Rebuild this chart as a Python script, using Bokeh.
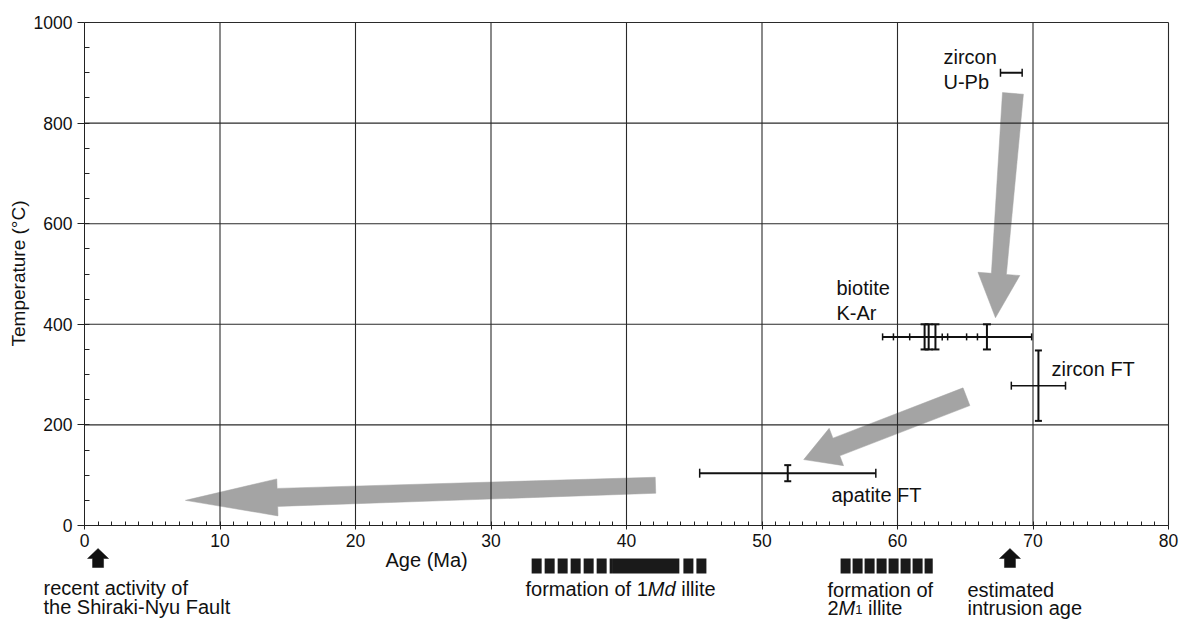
import math
from bokeh.plotting import figure
from bokeh.models import (Range1d, LinearAxis, FixedTicker, ColumnDataSource,
                          Whisker, TeeHead)
from bokeh.core.properties import value
from bokeh.embed import file_html
from bokeh.resources import INLINE

# ---------------- data ----------------
x_ticks = [0, 10, 20, 30, 40, 50, 60, 70, 80]
y_ticks = [0, 200, 400, 600, 800, 1000]
x_minor = list(range(0, 81, 1))
y_minor = list(range(0, 1001, 50))

# zircon U-Pb
zircon_upb_age = [68.4]
zircon_upb_age_err = [0.8]
zircon_upb_temp = [900]

# biotite K-Ar
biotite_age = [62.0, 62.3, 62.8, 66.6]
biotite_age_err = [3.1, 1.4, 3.1, 3.3]
biotite_temp = [375, 375, 375, 375]
biotite_temp_err = [25, 25, 25, 25]

# zircon FT
zircon_ft_age = [70.4]
zircon_ft_age_err = [2.0]
zircon_ft_temp = [278]
zircon_ft_temp_err = [70]

# apatite FT
apatite_ft_age = [51.9]
apatite_ft_age_err = [6.5]
apatite_ft_temp = [104]
apatite_ft_temp_err = [16]

# cooling-path arrows (age, temperature)
path_from_age = [68.52, 65.09, 42.14]
path_from_temp = [859, 256, 80]
path_to_age = [67.23, 53.08, 7.45]
path_to_temp = [413, 131, 50]

# events below the axis
event_ages = [1.0, 68.3]
illite_1Md_range = [33.0, 46.0]
illite_1Md_main = [39.0, 43.9]
illite_2M1_range = [55.8, 62.6]

# ---------------- frame geometry ----------------
W, H = 1179, 619
AXIS_LEFT_PX, AXIS_RIGHT_PX = 84, 1168
TOP_PX = 22
ZERO_PX = 525
X_MIN, X_MAX = 0, 80
Y_MAX = 1000
SX = (AXIS_RIGHT_PX - AXIS_LEFT_PX) / (X_MAX - X_MIN)
SY = (ZERO_PX - TOP_PX) / Y_MAX


def px2x(px):
    return X_MIN + (px - AXIS_LEFT_PX) / SX


def px2y(py):
    return (ZERO_PX - py) / SY


FONT = "Liberation Sans"
GRAY = "#a4a4a4"
INK = "#111111"
TEXT_DY = -7  # compensation for text baseline placement

p = figure(width=W, height=H,
           x_range=Range1d(px2x(0), px2x(W)), y_range=Range1d(px2y(H), px2y(0)),
           output_backend="svg", toolbar_location=None,
           x_axis_type=None, y_axis_type=None,
           min_border_left=0, min_border_right=0, min_border_top=0, min_border_bottom=0,
           outline_line_color=None, background_fill_color="white",
           border_fill_color="white")
p.xgrid.visible = False
p.ygrid.visible = False

# ---------------- axes ----------------
common = dict(major_label_text_font=FONT, major_label_text_font_size="17.5px",
              major_label_text_color=INK,
              axis_line_color="#222", major_tick_line_color="#222",
              minor_tick_line_color="#222")
yaxis = LinearAxis(ticker=FixedTicker(ticks=y_ticks, minor_ticks=y_minor), bounds=(0, Y_MAX),
                   fixed_location=X_MIN, major_label_standoff=5,
                   major_tick_in=0, major_tick_out=7, minor_tick_in=5, minor_tick_out=0,
                   **common)
p.add_layout(yaxis, "left")

xaxis = LinearAxis(ticker=FixedTicker(ticks=x_ticks, minor_ticks=x_minor), bounds=(X_MIN, X_MAX),
                   fixed_location=0, major_label_standoff=4,
                   major_tick_in=0, major_tick_out=4, minor_tick_in=4, minor_tick_out=0,
                   **common)
p.add_layout(xaxis, "below")


# ---------------- arrows ----------------
def arrow_polygon(x0, y0, x1, y1, w0, w1, hw, hl):
    X0, Y0, X1, Y1 = x0 * SX, y0 * SY, x1 * SX, y1 * SY
    dx, dy = X1 - X0, Y1 - Y0
    L = math.hypot(dx, dy)
    ux, uy = dx / L, dy / L
    nx, ny = -uy, ux
    bx, by = X1 - ux * hl, Y1 - uy * hl
    pts = [(X0 + nx * w0 / 2, Y0 + ny * w0 / 2),
           (bx + nx * w1 / 2, by + ny * w1 / 2),
           (bx + nx * hw / 2, by + ny * hw / 2),
           (X1, Y1),
           (bx - nx * hw / 2, by - ny * hw / 2),
           (bx - nx * w1 / 2, by - ny * w1 / 2),
           (X0 - nx * w0 / 2, Y0 - ny * w0 / 2)]
    return [q[0] / SX for q in pts], [q[1] / SY for q in pts]


shaft_tail = [21, 19, 16]
shaft_head = [15, 19, 18]
head_w = [42, 40, 37]
head_l = [44, 35, 92]
axs, ays = [], []
for i in range(len(path_from_age)):
    xs, ys = arrow_polygon(path_from_age[i], path_from_temp[i], path_to_age[i], path_to_temp[i],
                           shaft_tail[i], shaft_head[i], head_w[i], head_l[i])
    axs.append(xs)
    ays.append(ys)
p.patches(axs, ays, fill_color=GRAY, line_color=GRAY, line_width=0.5)

# ---------------- grid ----------------
gx = [t for t in x_ticks if t > X_MIN]
p.segment(x0=gx, y0=[0] * len(gx), x1=gx, y1=[Y_MAX] * len(gx), line_color="#2a2a2a", line_width=1.1)
gy = [t for t in y_ticks if t > 0]
p.segment(x0=[X_MIN] * len(gy), y0=gy, x1=[X_MAX] * len(gy), y1=gy, line_color="#2a2a2a", line_width=1.1)


# ---------------- error bars ----------------
def hbar(ages, errs, temps, cap=8, lw=2):
    src = ColumnDataSource(dict(base=temps, lower=[a - e for a, e in zip(ages, errs)],
                                upper=[a + e for a, e in zip(ages, errs)]))
    w = Whisker(source=src, base="base", lower="lower", upper="upper", dimension="width",
                line_color=INK, line_width=lw, level="overlay",
                upper_head=TeeHead(size=cap, line_width=1.5, line_color=INK),
                lower_head=TeeHead(size=cap, line_width=1.5, line_color=INK))
    p.add_layout(w)


def vbar(ages, temps, errs, cap=8, lw=2):
    src = ColumnDataSource(dict(base=ages, lower=[t - e for t, e in zip(temps, errs)],
                                upper=[t + e for t, e in zip(temps, errs)]))
    w = Whisker(source=src, base="base", lower="lower", upper="upper", dimension="height",
                line_color=INK, line_width=lw, level="overlay",
                upper_head=TeeHead(size=cap, line_width=2, line_color=INK),
                lower_head=TeeHead(size=cap, line_width=2, line_color=INK))
    p.add_layout(w)


hbar(zircon_upb_age, zircon_upb_age_err, zircon_upb_temp, cap=8)
hbar(biotite_age, biotite_age_err, biotite_temp, cap=7)
vbar(biotite_age, biotite_temp, biotite_temp_err, cap=8)
hbar(zircon_ft_age, zircon_ft_age_err, zircon_ft_temp, cap=8, lw=1.5)
vbar(zircon_ft_age, zircon_ft_temp, zircon_ft_temp_err, cap=7)
hbar(apatite_ft_age, apatite_ft_age_err, apatite_ft_temp, cap=9)
vbar(apatite_ft_age, apatite_ft_temp, apatite_ft_temp_err, cap=7)

# ---------------- below-axis events ----------------
bxs, bys = [], []
for a in event_ages:
    xs, ys = arrow_polygon(a, px2y(567), a, px2y(548), 11, 11, 21, 10)
    bxs.append(xs)
    bys.append(ys)
p.patches(bxs, bys, fill_color=INK, line_color=INK, line_width=0.5)

bar_y = px2y(565.5)
gap = 0.3
p.segment(x0=[illite_1Md_range[0], illite_1Md_main[1] + gap],
          y0=[bar_y, bar_y],
          x1=[illite_1Md_main[0], illite_1Md_range[1]],
          y1=[bar_y, bar_y],
          line_color="#1a1a1a", line_width=15, line_dash="10 3", line_cap="butt")
p.segment(x0=[illite_1Md_main[0]], y0=[bar_y], x1=[illite_1Md_main[1]], y1=[bar_y],
          line_color="#1a1a1a", line_width=15, line_cap="butt")
p.segment(x0=[illite_2M1_range[0]], y0=[bar_y], x1=[illite_2M1_range[1]], y1=[bar_y],
          line_color="#1a1a1a", line_width=15, line_dash="10 2", line_cap="butt")


# ---------------- texts ----------------
def label(px, py, txt, size="20px", style="normal", align="left", baseline="alphabetic",
          angle=0.0, dy=TEXT_DY):
    p.text(x=[px2x(px)], y=[px2y(py + dy)], text=[txt], text_font=value(FONT),
           text_font_size=size, text_font_style=style, text_color=INK,
           text_align=align, text_baseline=baseline, angle=angle)


label(18, 273, "Temperature (°C)", size="19px", align="center", baseline="middle",
      angle=math.pi / 2, dy=0)

label(943, 63, "zircon")
label(943, 88, "U-Pb")
label(836, 294, "biotite")
label(836, 319, "K-Ar")
label(1051, 375, "zircon FT")
label(831, 501, "apatite FT")
label(385, 566, "Age (Ma)", size="20px")

label(43, 594, "recent activity of")
label(43, 613, "the Shiraki-Nyu Fault")

label(525, 595, "formation of 1")
label(647.3, 595, "Md", style="italic")
label(680.7, 595, "illite")

label(827, 596, "formation of")
label(827, 614, "2")
label(838.1, 614, "M", style="italic")
label(854.8, 616, "1", size="13px")
label(867.5, 614, "illite")

label(967, 596, "estimated")
label(967, 614, "intrusion age")

with open("out.html", "w") as f:
    f.write(file_html(p, INLINE))
